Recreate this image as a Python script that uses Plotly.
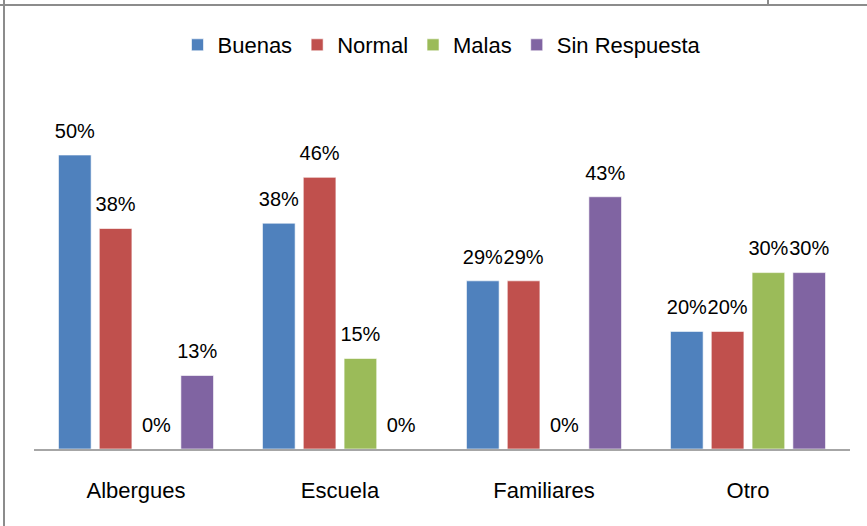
import plotly.graph_objects as go

categories = ["Albergues", "Escuela", "Familiares", "Otro"]
buenas = [50, 38.4, 28.6, 20]
normal = [37.5, 46.2, 28.6, 20]
malas = [0, 15.4, 0, 30]
sin_respuesta = [12.5, 0, 42.9, 30]

series = [
    ("Buenas", buenas, "#4F81BD"),
    ("Normal", normal, "#C0504D"),
    ("Malas", malas, "#9BBB59"),
    ("Sin Respuesta", sin_respuesta, "#8064A2"),
]

FONT = "Liberation Sans Narrow, Arial Narrow, Liberation Sans, Arial, sans-serif"
W, H = 867, 526
ML, MR, MT, MB = 34, 17, 126, 77

fig = go.Figure()
for name, vals, color in series:
    fig.add_trace(go.Bar(
        x=categories, y=vals, name=name, offsetgroup=name,
        marker=dict(color=color, line=dict(color="rgba(255,255,255,0.6)", width=1)),
        cliponaxis=False,
    ))
# percentage labels, lifted a bit above the bars like the original
for name, vals, color in series:
    fig.add_trace(go.Scatter(
        x=categories, y=vals, offsetgroup=name, mode="markers+text",
        marker=dict(size=18, opacity=0), texttemplate="%{y:.0f}%",
        textposition="top center", textfont=dict(family=FONT, size=20, color="#000000"),
        showlegend=False, hoverinfo="skip", cliponaxis=False,
    ))

# frame lines of the original picture
pw = W - ML - MR
ph = H - MT - MB
px_x = lambda p: (p - ML) / pw
px_y = lambda p: (H - MB - p) / ph
frame = "#8C8C8C"
fig.add_shape(type="line", xref="paper", yref="paper", x0=px_x(4), x1=px_x(4),
              y0=px_y(0), y1=px_y(H), line=dict(color=frame, width=2))
fig.add_shape(type="line", xref="paper", yref="paper", x0=px_x(0), x1=px_x(W),
              y0=px_y(5), y1=px_y(5), line=dict(color=frame, width=2))
fig.add_shape(type="line", xref="paper", yref="paper", x0=px_x(768), x1=px_x(768),
              y0=px_y(0), y1=px_y(5), line=dict(color=frame, width=2))

fig.update_layout(
    width=W, height=H,
    margin=dict(l=ML, r=MR, t=MT, b=MB),
    plot_bgcolor="white", paper_bgcolor="white",
    barmode="group", bargap=0.2, bargroupgap=0.2,
    scattermode="group", scattergap=0.2,
    font=dict(family=FONT, size=21, color="#000000"),
    showlegend=True,
    legend=dict(orientation="h", x=0.5, xanchor="center", y=px_y(45), yanchor="middle",
                font=dict(family=FONT, size=22), itemwidth=30, traceorder="normal"),
)
fig.update_xaxes(showline=True, linecolor="#A6A6A6", linewidth=2, ticks="",
                 tickfont=dict(size=22), ticklabelstandoff=21, showgrid=False)
fig.update_yaxes(range=[0, ph / 5.88], visible=False, showgrid=False)

fig.write_html("out.html", config={"displayModeBar": False},
               post_script="document.body.style.margin='0';")
